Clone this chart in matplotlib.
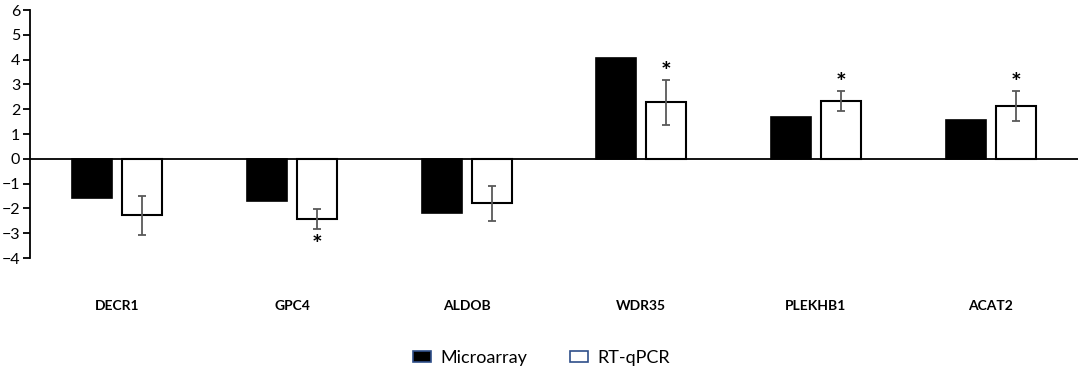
import matplotlib.pyplot as plt
import numpy as np
from matplotlib.patches import Patch

plt.rcParams['font.family'] = ['Lato', 'DejaVu Sans']

# datos
genes = ['DECR1', 'GPC4', 'ALDOB', 'WDR35', 'PLEKHB1', 'ACAT2']
microarray = [-1.6, -1.72, -2.2, 4.07, 1.68, 1.55]
rtqpcr = [-2.28, -2.44, -1.8, 2.28, 2.33, 2.12]
rtqpcr_err = [0.8, 0.41, 0.7, 0.91, 0.4, 0.6]
significativo = [False, True, False, True, True, True]

fig = plt.figure(figsize=(10.84, 3.76), dpi=100)
ax = fig.add_axes([30 / 1084, 1 - 258 / 376, 1048 / 1084, 248 / 376])

x = np.arange(len(genes))
ancho = 0.229
desp = 0.143

ax.bar(x - desp, microarray, ancho, color='black', edgecolor='black', linewidth=1.2, zorder=2)
ax.bar(x + desp, rtqpcr, ancho, color='white', edgecolor='black', linewidth=1.5, zorder=2)
ax.errorbar(x + desp, rtqpcr, yerr=rtqpcr_err, fmt='none', ecolor='#595959',
            elinewidth=1.3, capsize=3, capthick=1.3, zorder=3)

# asteriscos de significancia
for xi, v, e, s in zip(x, rtqpcr, rtqpcr_err, significativo):
    if not s:
        continue
    if v >= 0:
        ax.text(xi + desp, v + e + 0.3, '*', ha='center', va='center', fontsize=18, fontweight='bold')
    else:
        ax.text(xi + desp, v - e - 0.65, '*', ha='center', va='center', fontsize=18, fontweight='bold')

ax.axhline(0, color='black', linewidth=1.3, zorder=4)

ax.set_xlim(-0.5, len(genes) - 0.5)
ax.set_ylim(-4, 6)
ax.set_yticks(range(-4, 7))
ax.set_xticks(x)
ax.set_xticklabels(genes, fontsize=10, fontweight='bold')
ax.tick_params(axis='x', length=0, pad=30)
ax.tick_params(axis='y', direction='out', length=5, width=1.3, labelsize=11.5, pad=2)

for s in ['top', 'right', 'bottom']:
    ax.spines[s].set_visible(False)
ax.spines['left'].set_linewidth(1.3)

handles = [Patch(facecolor='black', edgecolor='#2f4f8a', linewidth=1.2, label='Microarray'),
           Patch(facecolor='white', edgecolor='#2f4f8a', linewidth=1.2, label='RT-qPCR')]
fig.legend(handles=handles, loc='center', bbox_to_anchor=(0.4995, 1 - 358 / 376), ncol=2,
           frameon=False, fontsize=13, handlelength=1.0, handleheight=0.5,
           handletextpad=0.5, columnspacing=2.4)

fig.savefig('out.png', dpi=100)
